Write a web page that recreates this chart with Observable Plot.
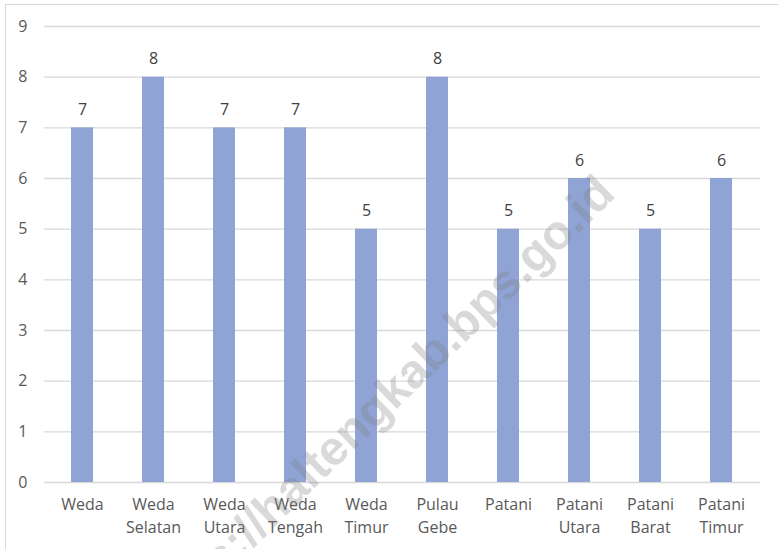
<!DOCTYPE html>
<html>
<head>
<meta charset="utf-8">
<script src="https://cdn.jsdelivr.net/npm/d3@7"></script>
<script src="https://cdn.jsdelivr.net/npm/@observablehq/plot@0.6"></script>
<style>
  html, body { margin: 0; padding: 0; background: #fff; }
  #wrap { position: relative; width: 778px; height: 549px; overflow: hidden; }
  #border { position: absolute; left: 5px; top: 4px; width: 800px; height: 600px; border: 1px solid #d9d9d9; box-sizing: border-box; pointer-events: none; }
  #chart { position: absolute; left: 0; top: 0; }
  #wm { position: absolute; left: 0; top: 0; pointer-events: none; }
</style>
</head>
<body>
<div id="wrap">
  <div id="border"></div>
  <div id="chart"></div>
  <svg id="wm" width="778" height="549"></svg>
</div>
<script>
const categories = ["Weda", "Weda\nSelatan", "Weda\nUtara", "Weda\nTengah", "Weda\nTimur", "Pulau\nGebe", "Patani", "Patani\nUtara", "Patani\nBarat", "Patani\nTimur"];
const values = [7, 8, 7, 7, 5, 8, 5, 6, 5, 6];
const yTicks = [0, 1, 2, 3, 4, 5, 6, 7, 8, 9];
const watermark = "https://haltengkab.bps.go.id";

const data = categories.map((c, i) => ({category: c, value: values[i]}));

const chart = Plot.plot({
  width: 778,
  height: 549,
  marginLeft: 44,
  marginRight: 18,
  marginTop: 26,
  marginBottom: 67,
  style: {fontFamily: "'Open Sans', sans-serif", fontSize: "16px", color: "#595959", background: "transparent"},
  x: {domain: categories, paddingInner: 0.69, paddingOuter: 0.345, label: null},
  y: {domain: [0, 9], ticks: yTicks, label: null},
  marks: [
    Plot.gridY(yTicks, {stroke: "#d9d9d9", strokeOpacity: 1, strokeWidth: 1.3}),
    Plot.barY(data, {x: "category", y: "value", fill: "#8FA4D4"}),
    Plot.text(data, {x: "category", y: "value", text: d => String(d.value), lineAnchor: "bottom", dy: -13, fill: "#404040", fontSize: 16}),
    Plot.axisY({ticks: yTicks, tickSize: 0, tickPadding: 17, fontSize: 16, fill: "#595959", label: null}),
    Plot.axisX({tickSize: 0, tickPadding: 12, fontSize: 16, fill: "#595959", lineHeight: 1.4, label: null})
  ]
});
document.getElementById("chart").appendChild(chart);

d3.select("#wm").append("text")
  .attr("transform", "translate(617,196) rotate(-44)")
  .attr("text-anchor", "end")
  .attr("font-family", "'Liberation Sans', Arial, sans-serif")
  .attr("font-weight", "bold")
  .attr("font-size", 48)
  .attr("fill", "#808080")
  .attr("fill-opacity", 0.3)
  .text(watermark);
</script>
</body>
</html>
